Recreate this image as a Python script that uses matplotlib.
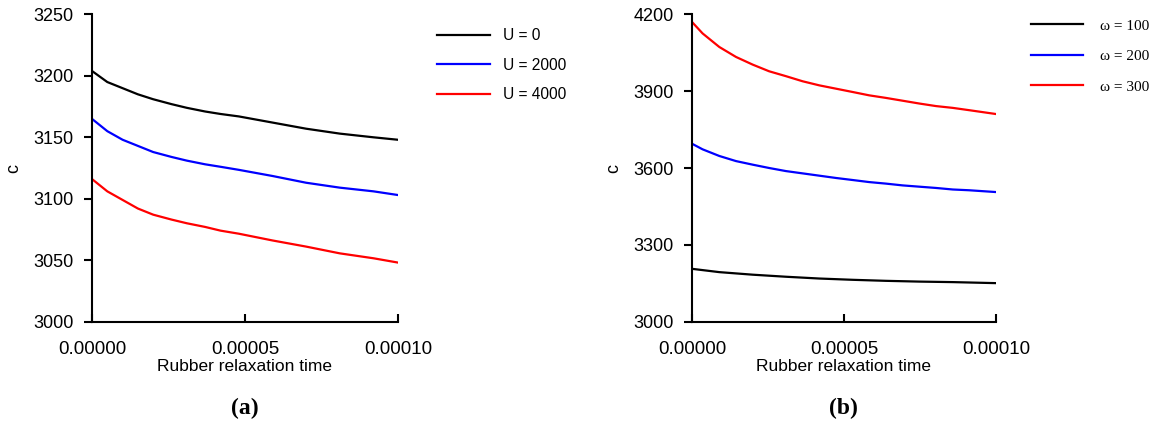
import matplotlib.pyplot as plt
import numpy as np
from matplotlib.ticker import FuncFormatter

# (a) rubber relaxation time in units of 1e-5
t_a = np.array([0, 0.5, 1, 1.5, 2, 2.6, 3.1, 3.7, 4.2, 4.8, 5.9, 7.0, 8.1, 9.2, 10]) * 1e-5
c_u0 = [3204, 3195, 3190, 3185, 3181, 3177, 3174, 3171, 3169, 3167, 3162, 3157, 3153, 3150, 3148]
c_u2000 = [3165, 3155, 3148, 3143, 3138, 3134, 3131, 3128, 3126, 3123.5, 3118.5, 3113, 3109, 3106, 3103]
c_u4000 = [3116, 3106, 3099, 3092, 3087, 3083, 3080, 3077, 3074, 3071.5, 3066, 3061, 3055.5, 3051.5, 3048]

# (b)
t_b = np.array([0, 0.35, 0.9, 1.45, 2.0, 2.54, 3.09, 3.64, 4.19, 4.74, 5.29, 5.83,
                6.38, 6.93, 7.48, 8.03, 8.58, 9.12, 10]) * 1e-5
c_w200 = [3695, 3673, 3647, 3627, 3613, 3600, 3588, 3579, 3570, 3561, 3553, 3545,
          3539, 3532, 3527, 3522, 3516, 3513, 3506]
c_w300 = [4171, 4126, 4073, 4034, 4004, 3978, 3959, 3939, 3923, 3910, 3897, 3884,
          3874, 3863, 3852, 3842, 3835, 3826, 3811]
t_b100 = np.array([0, 0.9, 2.0, 3.09, 4.19, 5.29, 6.38, 7.48, 8.58, 10]) * 1e-5
c_w100 = [3206, 3193, 3183, 3175, 3168, 3163, 3159, 3156, 3154, 3150]

labels_a = ["U = 0", "U = 2000", "U = 4000"]
labels_b = ["\u03c9 = 100", "\u03c9 = 200", "\u03c9 = 300"]
colors = ["black", "blue", "red"]

plt.rcParams["font.family"] = ["Liberation Sans", "DejaVu Sans"]
serif = ["Liberation Serif", "DejaVu Serif"]


def xfmt(val, pos):
    return "{:.5f}".format(val)


def style(ax, ylim, yticks):
    ax.set_xlim(0, 1e-4)
    ax.set_ylim(*ylim)
    ax.set_xticks([0, 5e-5, 1e-4])
    ax.set_yticks(yticks)
    ax.xaxis.set_major_formatter(FuncFormatter(xfmt))
    ax.spines["top"].set_visible(False)
    ax.spines["right"].set_visible(False)
    ax.spines["left"].set_linewidth(1.5)
    ax.spines["bottom"].set_linewidth(1.5)
    ax.tick_params(axis="x", direction="in", length=6, width=1.5, pad=14, labelsize=13.5)
    ax.tick_params(axis="y", direction="out", length=6, width=1.5, pad=7, labelsize=13)
    ax.set_xlabel("Rubber relaxation time", fontsize=12.5, labelpad=1)
    ax.set_ylabel("c", fontsize=13, labelpad=8)


fig = plt.figure(figsize=(11.5, 4.25), dpi=100)
ax1 = fig.add_axes([0.08, 0.2435, 0.266, 0.7224])
ax2 = fig.add_axes([0.6017, 0.2435, 0.2643, 0.7224])

for y, lab, col in zip([c_u0, c_u2000, c_u4000], labels_a, colors):
    ax1.plot(t_a, y, color=col, lw=1.6, label=lab)
style(ax1, (3000, 3250), [3000, 3050, 3100, 3150, 3200, 3250])
ax1.legend(loc="upper left", bbox_to_anchor=(0.38, 0.933), bbox_transform=fig.transFigure,
           frameon=False, fontsize=11.2, borderpad=0, borderaxespad=0,
           handlelength=3.4, handletextpad=0.85, labelspacing=0.92)

ax2.plot(t_b100, c_w100, color=colors[0], lw=1.6, label=labels_b[0])
ax2.plot(t_b, c_w200, color=colors[1], lw=1.6, label=labels_b[1])
ax2.plot(t_b, c_w300, color=colors[2], lw=1.6, label=labels_b[2])
style(ax2, (3000, 4200), [3000, 3300, 3600, 3900, 4200])
ax2.legend(loc="upper left", bbox_to_anchor=(0.8965, 0.955), bbox_transform=fig.transFigure,
           frameon=False, borderpad=0, borderaxespad=0,
           handlelength=3.4, handletextpad=1.1, labelspacing=1.1,
           prop={"family": serif, "size": 11})

fig.text(0.213, 0.025, "(a)", ha="center", fontsize=17, fontweight="bold", family=serif)
fig.text(0.733, 0.025, "(b)", ha="center", fontsize=17, fontweight="bold", family=serif)

fig.savefig("out.png", dpi=100)
